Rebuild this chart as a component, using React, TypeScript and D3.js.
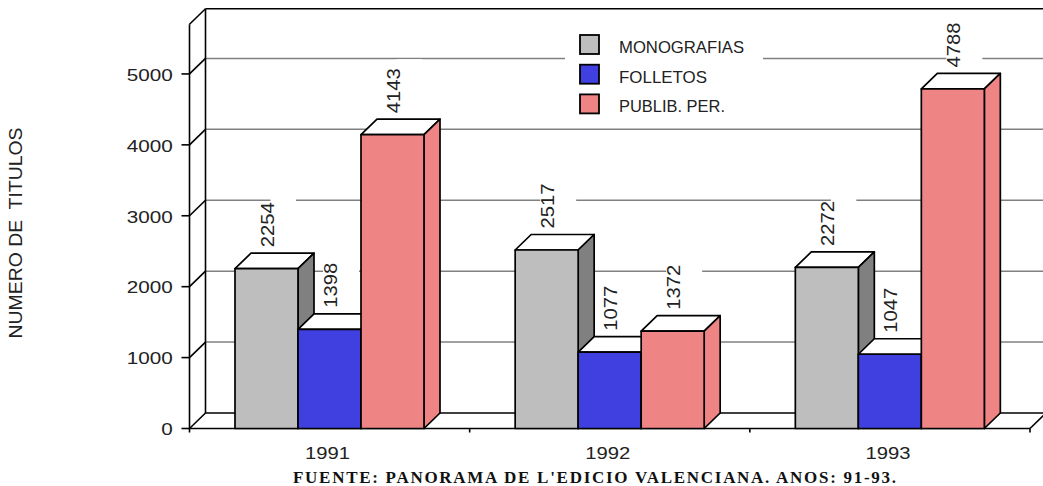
import React from "react";
import * as d3 from "d3";

const categories = ["1991", "1992", "1993"];
const seriesNames = ["MONOGRAFIAS", "FOLLETOS", "PUBLIB. PER."];
const monografias = [2254, 2517, 2272];
const folletos = [1398, 1077, 1047];
const publib = [4143, 1372, 4788];
const yTicks = [0, 1000, 2000, 3000, 4000, 5000];
const seriesValues = [monografias, folletos, publib];
const frontColors = ["#bebebe", "#4040e0", "#ef8484"];
const sideColors = ["#808080", "#2020a0", "#ef8484"];

const W = 1043, H = 486;
const DX = 16, DY = 15.5;
const SANS = "'Liberation Sans', Arial, sans-serif";
const SERIF = "'Liberation Serif', 'Times New Roman', serif";

const x = d3.scaleBand<string>().domain(categories).range([189.5, 1030]);
const inner = d3.scaleBand<string>().domain(seriesNames).range([45.5, 234.5]);
const y = d3.scaleLinear().domain([0, 5700]).range([428.5, 24.3]);

const LABEL_LEN = 45;
const TXT = "#222";

type Bar = { cat: string; s: number; v: number; x0: number; x1: number; top: number };
const bars: Bar[] = categories.flatMap((cat, c) =>
  seriesNames.map((name, s) => {
    const x0 = (x(cat) as number) + (inner(name) as number);
    return { cat, s, v: seriesValues[s][c], x0, x1: x0 + inner.bandwidth(), top: y(seriesValues[s][c]) };
  })
);

const pts = (p: number[][]) => p.map((q) => q.join(",")).join(" ");

export default function App() {
  const x0 = 189.5, xEnd = 1030, y0 = y(0), yTop = y.range()[1];
  return (
    <svg width={W} height={H} style={{ position: "absolute", left: 0, top: 0, background: "#fff" }}>
      {/* grid on the back wall */}
      {yTicks.slice(1).map((t) => (
        <line key={t} x1={x0 + DX} x2={W} y1={y(t) - DY} y2={y(t) - DY} stroke="#808080" strokeWidth={1.5} />
      ))}
      {/* white backing of data labels and legend */}
      {bars.map((b, i) => {
        const cx = (b.x0 + b.x1) / 2 + 1.5;
        const bottom = b.top - DY - 6;
        const top = bottom - LABEL_LEN;
        return (
          <g key={i} fill="#fff">
            <rect x={cx - 8} y={top + 3} width={36} height={LABEL_LEN - 3} />
            <rect x={cx + 2.5} y={top - 9} width={25.5} height={12} />
          </g>
        );
      })}
      <rect x={565} y={28} width={198} height={100} fill="#fff" />

      {/* walls */}
      <g stroke="#000" strokeWidth={1.6} fill="none">
        <line x1={x0 + DX} x2={W} y1={yTop - DY} y2={yTop - DY} />
        <line x1={x0 + DX} x2={x0 + DX} y1={yTop - DY} y2={y0 - DY} />
        <line x1={x0 + DX} x2={W} y1={y0 - DY} y2={y0 - DY} />
        <line x1={x0} x2={x0} y1={yTop} y2={y0} />
        <line x1={x0} x2={xEnd} y1={y0} y2={y0} />
        <line x1={x0} y1={yTop} x2={x0 + DX} y2={yTop - DY} />
        <line x1={xEnd} y1={y0} x2={xEnd + DX} y2={y0 - DY} />
        {yTicks.map((t) => (
          <g key={t}>
            <line x1={x0 - 8} x2={x0} y1={y(t)} y2={y(t)} />
            <line x1={x0} x2={x0 + DX} y1={y(t)} y2={y(t) - DY} />
          </g>
        ))}
        {[...categories.map((c) => x(c) as number), xEnd].map((p, i) => (
          <line key={i} x1={p} x2={p} y1={y0} y2={y0 + 4} />
        ))}
      </g>

      {/* bars */}
      <g stroke="#000" strokeWidth={1.7} strokeLinejoin="round">
        {bars.map((b, i) => (
          <g key={i}>
            <polygon
              fill="#fff"
              points={pts([[b.x0, b.top], [b.x0 + DX, b.top - DY], [b.x1 + DX, b.top - DY], [b.x1, b.top]])}
            />
            <polygon
              fill={sideColors[b.s]}
              points={pts([[b.x1, b.top], [b.x1 + DX, b.top - DY], [b.x1 + DX, y0 - DY], [b.x1, y0]])}
            />
            <rect x={b.x0} y={b.top} width={b.x1 - b.x0} height={y0 - b.top} fill={frontColors[b.s]} />
          </g>
        ))}
      </g>

      {/* data labels */}
      <g fontFamily={SANS} fontSize={18.5} fill={TXT}>
        {bars.map((b, i) => {
          const cx = (b.x0 + b.x1) / 2 + 1.5;
          const bottom = b.top - DY - 6;
          return (
            <text
              key={i}
              transform={`translate(${cx + 6},${bottom}) rotate(-90)`}
              textLength={LABEL_LEN}
              lengthAdjust="spacingAndGlyphs"
            >
              {b.v}
            </text>
          );
        })}
      </g>

      {/* y tick labels */}
      <g fontFamily={SANS} fontSize={17} fill={TXT}>
        {yTicks.map((t) => (
          <text
            key={t}
            x={172.7}
            y={y(t) + 6.8}
            textAnchor="end"
            textLength={String(t).length * 11.5}
            lengthAdjust="spacingAndGlyphs"
          >
            {t}
          </text>
        ))}
        {categories.map((c) => (
          <text
            key={c}
            x={(x(c) as number) + x.bandwidth() / 2 - 2}
            y={458.5}
            textAnchor="middle"
            textLength={45}
            lengthAdjust="spacingAndGlyphs"
          >
            {c}
          </text>
        ))}
      </g>

      {/* axis title */}
      <text
        transform="translate(21.5,338.5) rotate(-90)"
        fontFamily={SANS}
        fontSize={18.5}
        fill={TXT}
        textLength={211}
        lengthAdjust="spacingAndGlyphs"
      >
        {"NUMERO DE\u00a0 TITULOS"}
      </text>

      {/* legend */}
      {seriesNames.map((n, i) => {
        const ly = 35 + i * 29.7;
        return (
          <g key={n}>
            <rect x={580} y={ly} width={19} height={19} fill={frontColors[i]} stroke="#000" strokeWidth={1.8} />
            <text
              x={619}
              y={ly + 18}
              fontFamily={SANS}
              fontSize={17}
              fill={TXT}
              textLength={[125, 88, 106][i]}
              lengthAdjust="spacingAndGlyphs"
            >
              {n}
            </text>
          </g>
        );
      })}

      {/* footer */}
      <text
        x={293}
        y={482.5}
        fontFamily={SERIF}
        fontWeight="bold"
        fontSize={17}
        fill="#111"
        textLength={603}
        lengthAdjust="spacing"
      >
        FUENTE: PANORAMA DE L'EDICIO VALENCIANA. ANOS: 91-93.
      </text>
    </svg>
  );
}
